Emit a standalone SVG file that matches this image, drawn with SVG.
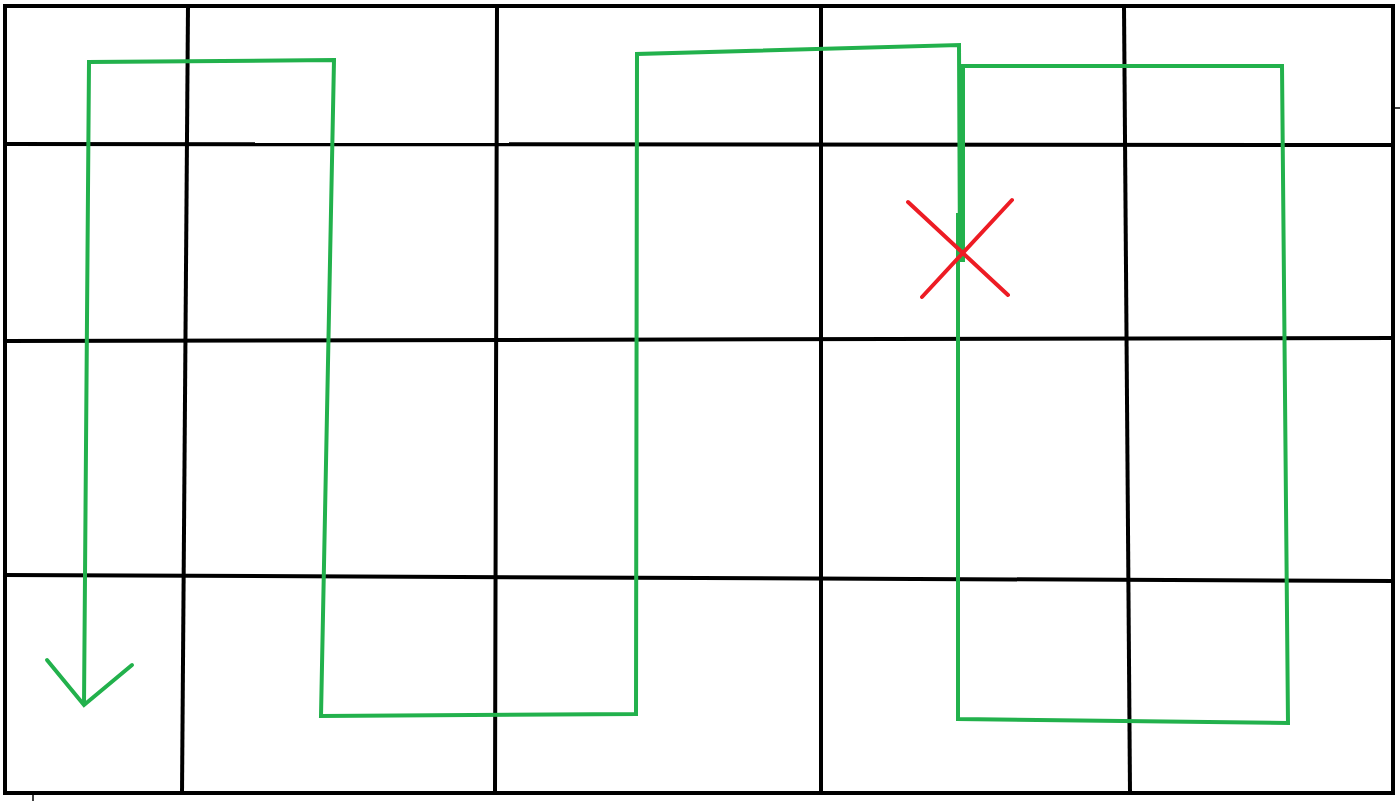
<svg xmlns="http://www.w3.org/2000/svg" width="1400" height="801" viewBox="0 0 1400 801">
<style>
.grid{stroke:#000;stroke-width:4;fill:none;stroke-linecap:square}
.thin{stroke:#000;stroke-width:1.5;fill:none}
.path{stroke:#22b14c;stroke-width:4;fill:none;stroke-linejoin:miter;stroke-linecap:butt}
.cross{stroke:#ed1c24;stroke-width:4;fill:none;stroke-linecap:round}
</style>
<rect width="1400" height="801" fill="#fff"/>
<g id="grid">
<polyline class="grid" points="5,6 1393,6 1393,793 5,793 5,6"/>
<line class="grid" x1="188" y1="6" x2="182" y2="793"/>
<line class="grid" x1="497" y1="6" x2="495" y2="793"/>
<line class="grid" x1="821" y1="6" x2="821" y2="793"/>
<line class="grid" x1="1124" y1="6" x2="1130" y2="793"/>
<line class="grid" x1="5" y1="144" x2="1393" y2="145"/>
<line class="grid" x1="5" y1="341" x2="1393" y2="338"/>
<line class="grid" x1="5" y1="575" x2="1393" y2="581"/>
<line class="thin" x1="1393" y1="108" x2="1400" y2="108"/>
<line class="thin" x1="33" y1="795" x2="33" y2="801"/>
</g>
<g id="route">
<polyline class="path" points="960,262 959,45 637,54 636,714 321,716 334,60 89,62 84,705"/>
<polyline class="path" points="47,660 84,705 132,665" style="stroke-linecap:round"/>
<polyline class="path" points="958,213 958,719 1288,723 1282,66 963,66 963,262"/>
</g>
<g id="cross">
<line class="cross" x1="908" y1="202" x2="1008" y2="295"/>
<line class="cross" x1="1012" y1="200" x2="922" y2="297"/>
</g>
</svg>
